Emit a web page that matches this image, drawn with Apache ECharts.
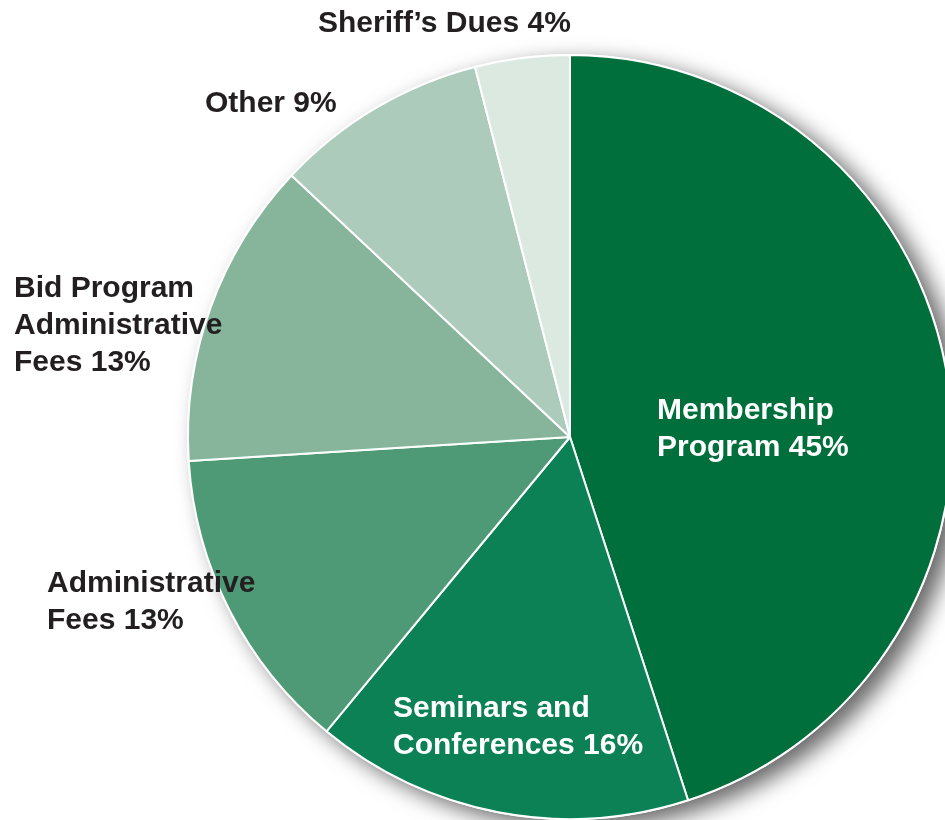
<!DOCTYPE html>
<html>
<head>
<meta charset="utf-8">
<script src="https://cdn.jsdelivr.net/npm/echarts@6/dist/echarts.min.js"></script>
<style>html,body{margin:0;padding:0;background:#fff;}#c{width:945px;height:820px;}</style>
</head>
<body>
<div id="c"></div>
<script>
const categories = ['Membership Program', 'Seminars and Conferences', 'Administrative Fees', 'Bid Program Administrative Fees', 'Other', 'Sheriff\u2019s Dues'];
const labelText = ['Membership\nProgram', 'Seminars and\nConferences', 'Administrative\nFees', 'Bid Program\nAdministrative\nFees', 'Other', 'Sheriff\u2019s Dues'];
const values = [45, 16, 13, 13, 9, 4];
const colors = ['#016f3c', '#0b8155', '#4e9a77', '#86b59c', '#accbba', '#dce9e1'];
const labelColors = ['#ffffff', '#ffffff', '#231f20', '#231f20', '#231f20', '#231f20'];
const labelPos = [[657, 429], [393, 727], [47, 602], [14, 326], [205, 104], [318, 24]];

const chart = echarts.init(document.getElementById('c'), null, {renderer: 'canvas'});
const data = categories.map((name, i) => ({
  name: name,
  value: values[i],
  itemStyle: {color: colors[i]},
  label: {color: labelColors[i]}
}));
chart.setOption({
  animation: false,
  series: [{
    // shadow disk underneath the pie
    type: 'pie',
    z: 1,
    silent: true,
    center: [570, 437],
    radius: 383,
    label: {show: false},
    labelLine: {show: false},
    itemStyle: {
      color: '#ffffff',
      shadowColor: 'rgba(0,0,0,0.6)', shadowBlur: 22, shadowOffsetX: 12, shadowOffsetY: 8
    },
    emphasis: {disabled: true},
    data: [{value: 1, name: ''}]
  }, {
    type: 'pie',
    z: 2,
    center: [570, 437],
    radius: 382,
    startAngle: 90,
    clockwise: true,
    avoidLabelOverlap: false,
    itemStyle: {borderColor: '#ffffff', borderWidth: 2},
    label: {
      show: true,
      position: 'inside',
      fontFamily: 'Liberation Sans',
      fontWeight: 'bold',
      fontSize: 30,
      lineHeight: 37,
      align: 'left',
      formatter: p => labelText[p.dataIndex] + ' ' + p.value + '%'
    },
    labelLine: {show: false},
    labelLayout: p => ({
      x: labelPos[p.dataIndex][0],
      y: labelPos[p.dataIndex][1],
      align: 'left',
      verticalAlign: 'middle'
    }),
    emphasis: {disabled: true},
    data: data
  }]
});
</script>
</body>
</html>
